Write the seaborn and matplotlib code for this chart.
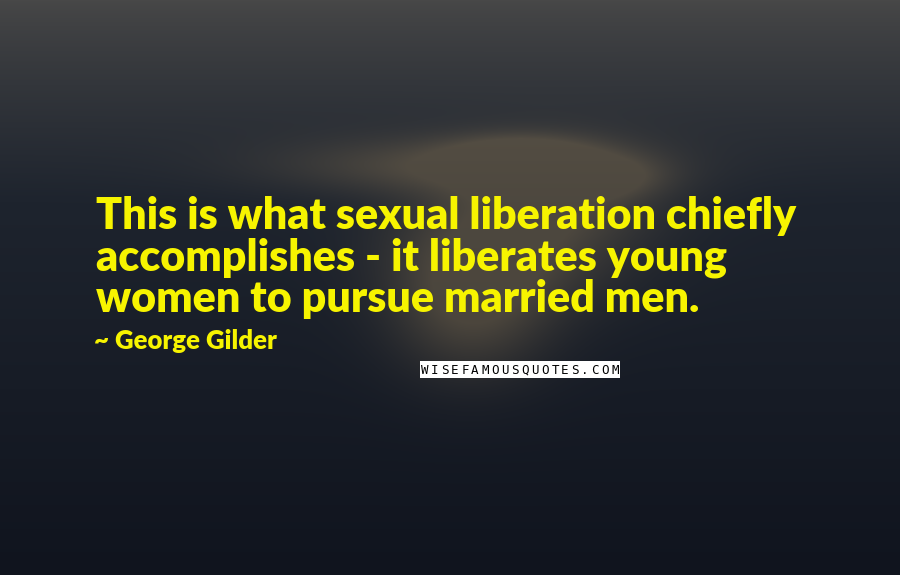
import numpy as np
import matplotlib
matplotlib.use('Agg')
import matplotlib.pyplot as plt
import seaborn as sns
from matplotlib.patches import Rectangle

# Text content
quote_lines = ["This is what sexual liberation chiefly",
               "accomplishes - it liberates young",
               "women to pursue married men."]
author = "~ George Gilder"
watermark = "WISEFAMOUSQUOTES.COM"

W, H = 900, 575

sns.set_theme(style='white')
plt.rcParams['font.family'] = ['Lato', 'DejaVu Sans']

# Background: vertical gradient with a soft warm cloud in the middle
yy, xx = np.mgrid[0:H, 0:W].astype(float)
t = yy / H
top = np.array([72, 72, 72]) / 255
mid = np.array([30, 36, 46]) / 255
bot = np.array([16, 20, 30]) / 255
w1 = np.clip(t / 0.35, 0, 1)[..., None] ** 0.8
w2 = np.clip((t - 0.35) / 0.65, 0, 1)[..., None]
bg = top * (1 - w1) + mid * w1
bg = bg * (1 - w2) + bot * w2

cloud = np.array([125, 108, 80]) / 255
blobs = [(450, 165, 120, 20, 0.45), (560, 190, 70, 35, 0.35),
         (510, 245, 80, 45, 0.4), (470, 305, 55, 50, 0.45),
         (520, 150, 50, 12, 0.35), (610, 175, 40, 15, 0.3)]
glow = np.zeros((H, W))
for cx, cy, sx, sy, a in blobs:
    glow += a * np.exp(-(((xx - cx) / sx) ** 2 + ((yy - cy) / sy) ** 2) / 2)
glow = np.clip(glow, 0, 0.5)[..., None]
bg = bg * (1 - glow) + cloud * glow

fig = plt.figure(figsize=(9, 5.75), dpi=100)
ax = fig.add_axes([0, 0, 1, 1])
ax.imshow(bg, extent=(0, W, H, 0), aspect='auto')
ax.set_xlim(0, W)
ax.set_ylim(H, 0)
ax.axis('off')

yellow = '#f7f400'
for i, line in enumerate(quote_lines):
    ax.text(96, 216 + i * 41.5, line, color=yellow, fontsize=31,
            fontweight='heavy', va='center', ha='left')
ax.text(94, 341, author, color=yellow, fontsize=18.5, fontweight='heavy',
        va='center', ha='left')

# watermark badge with spaced letters
ax.add_patch(Rectangle((420, 361), 200, 17, facecolor='white', edgecolor='none'))
step = 200 / len(watermark)
for k, ch in enumerate(watermark):
    ax.text(420 + step * (k + 0.5), 370, ch, color='black', fontsize=9,
            family=['DejaVu Sans Mono'], va='center', ha='center')

fig.savefig('out.png', dpi=100)
